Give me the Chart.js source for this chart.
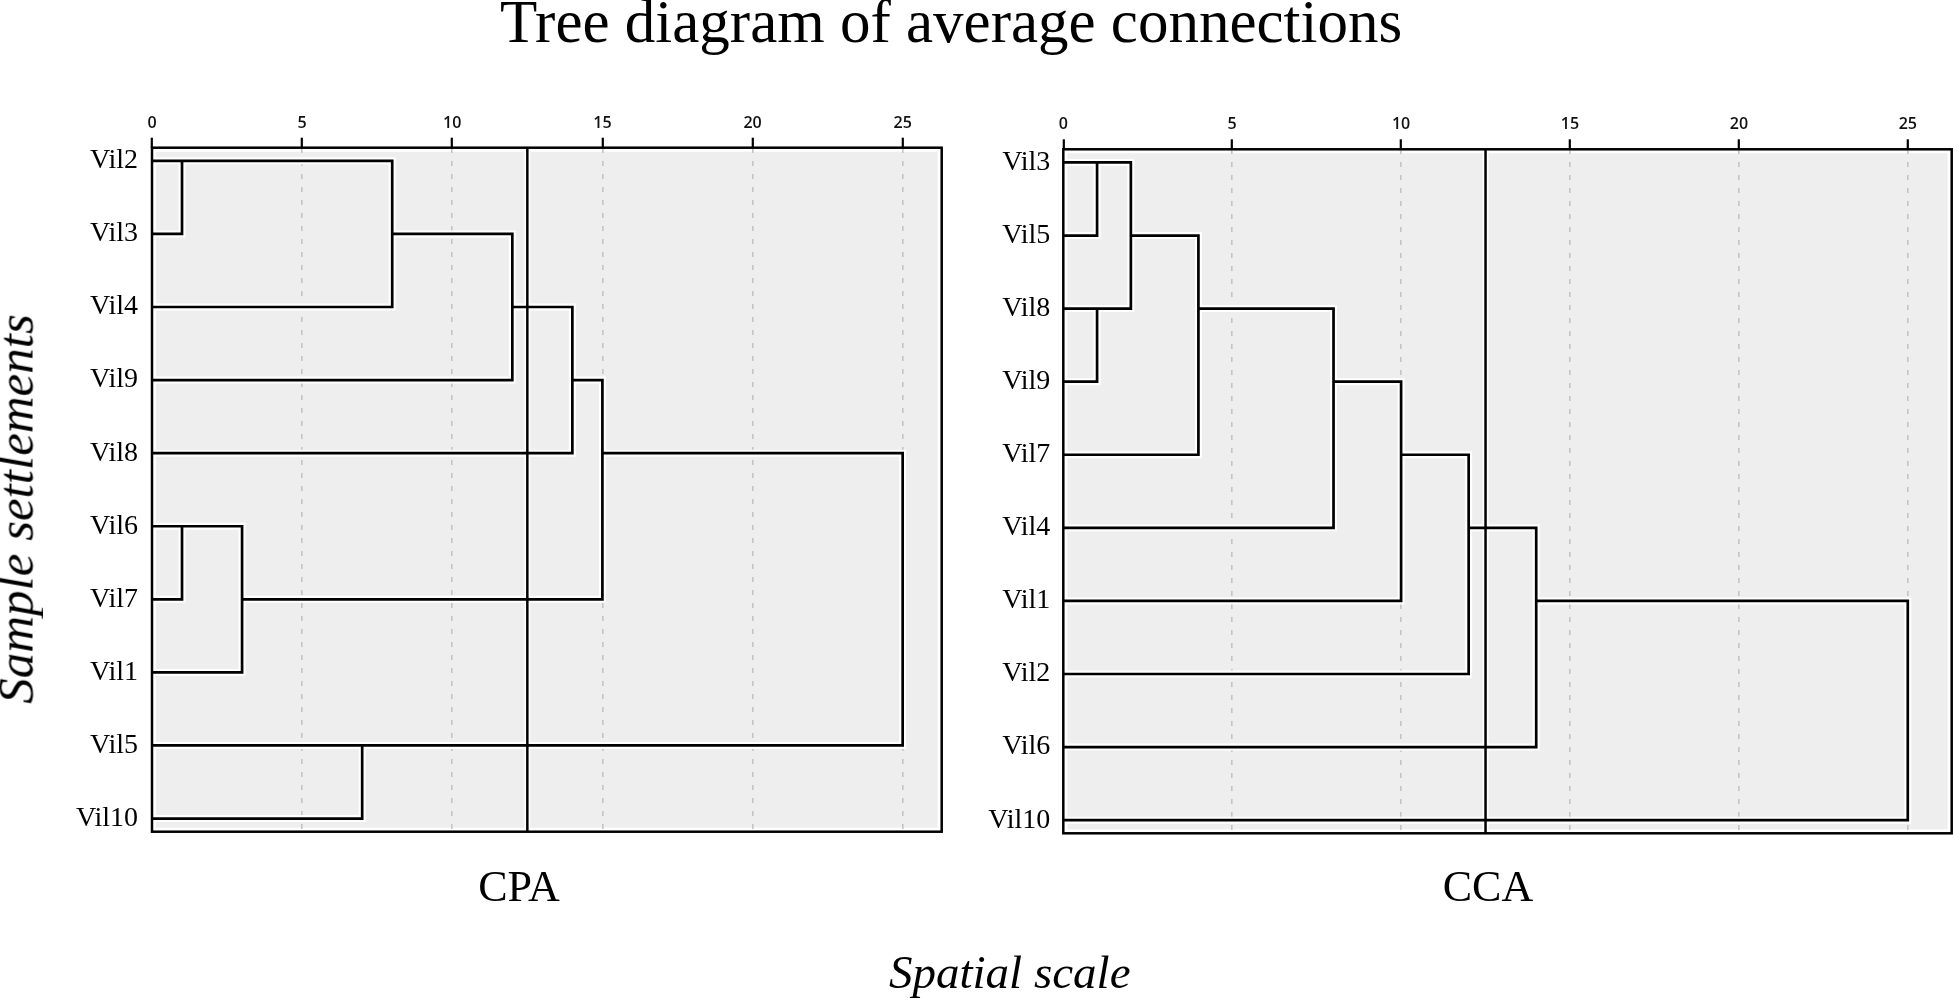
<!DOCTYPE html>
<html><head><meta charset="utf-8">
<script src="https://cdn.jsdelivr.net/npm/chart.js@4.4.1/dist/chart.umd.min.js"></script>
<style>
html,body{margin:0;padding:0;background:#fff;}
body{width:1960px;height:1001px;position:relative;overflow:hidden;font-family:"Liberation Serif","Times New Roman",serif;color:#000;}
canvas{position:absolute;top:0;z-index:1;}
.t{position:absolute;white-space:nowrap;line-height:1;z-index:2;}
</style></head><body>
<div class="t" id="title" style="font-size:61px;left:500px;top:-9.4px;">Tree diagram of average connections</div>
<div class="t" id="ylab" style="font-size:51px;font-style:italic;left:16px;top:509px;transform:translate(-50%,-50%) rotate(-90deg);">Sample settlements</div>
<div class="t" id="xlab" style="font-size:47px;font-style:italic;left:889px;top:948.6px;">Spatial scale</div>
<div class="t" id="p1" style="font-size:44px;left:519px;top:865.2px;transform:translateX(-50%);"></div>
<div class="t" id="p2" style="font-size:44px;left:1488px;top:865.2px;transform:translateX(-50%);"></div>
<canvas id="c1" width="960" height="1001" style="left:0;width:960px;height:1001px;"></canvas>
<canvas id="c2" width="1000" height="1001" style="left:960px;width:1000px;height:1001px;"></canvas>
<script>
// ---------- data ----------
const panelTitles = ['CPA', 'CCA'];
const xTickValues = [0, 5, 10, 15, 20, 25];
const cutLevel = 12.5;

// CPA dendrogram (row order top→bottom, agglomeration schedule)
const cpaRows  = ['Vil2','Vil3','Vil4','Vil9','Vil8','Vil6','Vil7','Vil1','Vil5','Vil10'];
const cpaJoinA = ['Vil2','Vil6','Vil6','Vil5','Vil2','Vil2','Vil2','Vil2','Vil2'];
const cpaJoinB = ['Vil3','Vil7','Vil1','Vil10','Vil4','Vil9','Vil8','Vil6','Vil5'];
const cpaDist  = [1, 1, 3, 7, 8, 12, 14, 15, 25];

// CCA dendrogram
const ccaRows  = ['Vil3','Vil5','Vil8','Vil9','Vil7','Vil4','Vil1','Vil2','Vil6','Vil10'];
const ccaJoinA = ['Vil3','Vil8','Vil3','Vil3','Vil3','Vil3','Vil3','Vil3','Vil3'];
const ccaJoinB = ['Vil5','Vil9','Vil8','Vil7','Vil4','Vil1','Vil2','Vil6','Vil10'];
const ccaDist  = [1, 1, 2, 4, 8, 10, 12, 14, 25];

// ---------- build ----------
document.getElementById('p1').textContent = panelTitles[0];
document.getElementById('p2').textContent = panelTitles[1];

function dendroPoints(rows, A, B, D) {
  const cl = {};
  rows.forEach((r, i) => cl[r] = {x: 0, y: i});
  const pts = [];
  for (let k = 0; k < D.length; k++) {
    const a = cl[A[k]], b = cl[B[k]], d = D[k];
    pts.push({x: a.x, y: a.y}, {x: d, y: a.y}, {x: d, y: b.y}, {x: b.x, y: b.y}, {x: null, y: null});
    cl[A[k]] = {x: d, y: Math.floor((a.y + b.y) / 2)};
  }
  return pts;
}

const Y_MIN = -0.18, Y_MAX = 9.18, X_MAX = 26.3;

const framePlugin = {
  id: 'frame',
  beforeDraw(chart) {
    const {ctx, chartArea: {left, top, right, bottom}} = chart;
    ctx.save();
    ctx.fillStyle = '#eeeeee'; ctx.fillRect(left + 4, top + 4, right - left - 8, bottom - top - 8);
    ctx.restore();
  },
  afterDraw(chart) {
    const {ctx, chartArea: {left, top, right, bottom}} = chart;
    ctx.save(); ctx.strokeStyle = '#000'; ctx.lineWidth = 2.5;
    ctx.strokeRect(left, top, right - left, bottom - top); ctx.restore();
  }
};

function makeChart(id, rows, A, B, D, geo) {
  const pts = dendroPoints(rows, A, B, D);
  const cut = [{x: cutLevel, y: Y_MIN}, {x: cutLevel, y: Y_MAX}];
  const base = {showLine: true, pointRadius: 0, borderJoinStyle: 'miter', borderCapStyle: 'butt', tension: 0, spanGaps: false};
  return new Chart(document.getElementById(id), {
    type: 'scatter',
    data: {datasets: [
      Object.assign({}, base, {data: pts, borderColor: '#ffffff', borderWidth: 7, order: 3}),
      Object.assign({}, base, {data: cut, borderColor: '#ffffff', borderWidth: 6, order: 3}),
      Object.assign({}, base, {data: pts, borderColor: '#000000', borderWidth: 2.7, order: 1}),
      Object.assign({}, base, {data: cut, borderColor: '#000000', borderWidth: 2.5, order: 1})
    ]},
    options: {
      responsive: false, animation: false, events: [], devicePixelRatio: 1,
      layout: {padding: {top: 0, left: 0, right: geo.padR, bottom: geo.padB}},
      plugins: {legend: {display: false}, tooltip: {enabled: false}},
      scales: {
        x: {
          type: 'linear', position: 'top', min: 0, max: X_MAX,
          afterBuildTicks: ax => { ax.ticks = xTickValues.map(v => ({value: v})); },
          afterFit: ax => { ax.height = geo.top; },
          ticks: {color: '#111', padding: 5, font: {family: 'Open Sans', size: 16, weight: '600'}, callback: v => String(v)},
          grid: {drawOnChartArea: true, drawTicks: true, tickLength: 10, tickColor: '#000', tickWidth: 2.2,
                 color: c => (c.tick && c.tick.value === 0) ? 'rgba(0,0,0,0)' : '#c4c4c4', lineWidth: 1.6},
          border: {display: false, dash: [5, 8]}
        },
        y: {
          type: 'linear', reverse: true, min: Y_MIN, max: Y_MAX,
          afterBuildTicks: ax => { ax.ticks = rows.map((r, i) => ({value: i})); },
          afterFit: ax => { ax.width = geo.left; },
          ticks: {autoSkip: false, color: '#000', padding: geo.labPad,
                  font: {family: 'Liberation Serif', size: 28}, callback: v => rows[v]},
          grid: {display: false, drawTicks: false},
          border: {display: false}
        }
      }
    },
    plugins: [framePlugin]
  });
}

makeChart('c1', cpaRows, cpaJoinA, cpaJoinB, cpaDist, {left: 152, top: 147.7, padR: 18.3, padB: 169.3, labPad: 14});
makeChart('c2', ccaRows, ccaJoinA, ccaJoinB, ccaDist, {left: 103.3, top: 149.3, padR: 8.3, padB: 167.7, labPad: 13});
</script>
</body></html>
